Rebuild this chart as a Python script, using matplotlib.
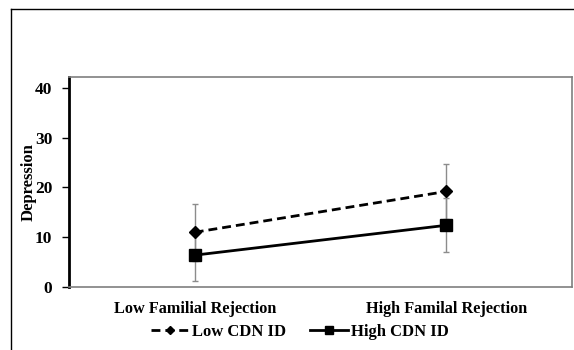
import numpy as np
import matplotlib.pyplot as plt
from matplotlib.lines import Line2D

#%% Data
categories   = ['Low Familial Rejection', 'High Familal Rejection']
low_cdn      = [11.0, 19.2]          # Low CDN ID mean depression
low_cdn_err  = [5.7, 5.6]
high_cdn     = [6.4, 12.4]           # High CDN ID mean depression
high_cdn_err = [5.2, 5.4]
yticks       = [0, 10, 20, 30, 40]

plt.rcParams['font.family'] = ['Liberation Serif', 'DejaVu Serif']
plt.rcParams['font.weight'] = 'bold'

fig = plt.figure(figsize=(5.74, 3.5), dpi=100)
ax  = fig.add_axes([69/574, 1-287/350, (572-69)/574, (287-77)/350])

x = np.arange(len(categories))

ax.errorbar(x, low_cdn, yerr=low_cdn_err, fmt='none', ecolor='#8c8c8c', elinewidth=1.0, capsize=2.5, capthick=1.0, zorder=2)
ax.errorbar(x, high_cdn, yerr=high_cdn_err, fmt='none', ecolor='#8c8c8c', elinewidth=1.0, capsize=2.5, capthick=1.0, zorder=2)
ax.plot(x, low_cdn, color='black', lw=2.0, ls=(0, (3.2, 1.8)), marker='D', ms=6, label='Low CDN ID', zorder=3)
ax.plot(x, high_cdn, color='black', lw=2.0, ls='-', marker='s', ms=8, label='High CDN ID', zorder=3)

ax.set_xlim(-0.5, 1.5)
ax.set_ylim(0, 42.2)
ax.set_yticks(yticks)
ax.set_xticks(x)
ax.set_xticklabels(categories, fontsize=11.7, fontweight='bold')
ax.tick_params(axis='x', length=0, pad=10)
ax.tick_params(axis='y', length=5, width=1, labelsize=12.5, pad=7)
for lab in ax.get_yticklabels():
    lab.set_fontweight('bold')
ax.set_ylabel('Depression', fontsize=12, fontweight='bold', labelpad=-1)

ax.spines['left'].set_linewidth(2)
ax.spines['left'].set_color('black')
for s in ['top', 'right', 'bottom']:
    ax.spines[s].set_color('#7f7f7f')
    ax.spines[s].set_linewidth(1.2)

leg = fig.legend(loc='center', bbox_to_anchor=(300/574, 1-332/350), ncol=2, frameon=False,
                 prop={'size': 12, 'weight': 'bold'}, handlelength=2.3, columnspacing=1.4,
                 handletextpad=0.2, markerscale=0.75)

# page frame around the figure
fig.add_artist(Line2D([11/574, 11/574], [0, 1-9/350], transform=fig.transFigure, color='black', lw=1))
fig.add_artist(Line2D([11/574, 1], [1-9/350, 1-9/350], transform=fig.transFigure, color='black', lw=1))

fig.savefig('out.png', dpi=100)
